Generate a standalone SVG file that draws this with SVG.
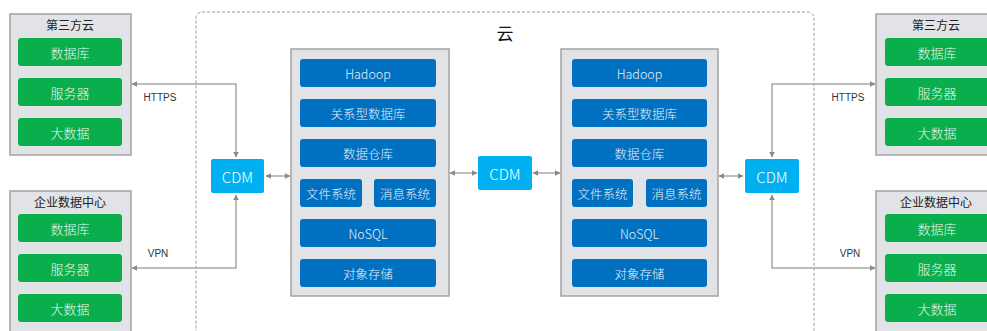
<svg xmlns="http://www.w3.org/2000/svg" width="987" height="331" viewBox="0 0 987 331">
  <defs>
    <style>
      text { font-family: "Noto Sans CJK SC", "Noto Sans", sans-serif; text-anchor: middle; dominant-baseline: central; font-weight: 300; }
      .site { fill: #e1e3e6; stroke: #a3a3a3; stroke-width: 1.5; }
      .title { fill: #222; font-size: 12px; font-weight: 400; }
      .green { fill: #0aae4c; }
      .gtxt { fill: #e8f7ec; font-size: 13px; }
      .panel { fill: #e1e3e6; stroke: #a3a3a3; stroke-width: 1.5; }
      .blue { fill: #0070c0; }
      .btxt { fill: #e6f0fa; font-size: 12.5px; }
      .cdm { fill: #00b0f0; }
      .ctxt { fill: #ffffff; font-size: 15px; }
      .link { fill: none; stroke: #a8a8a8; stroke-width: 1.5; }
      .lbl { fill: #333; font-size: 10px; font-weight: 400; font-family: "Liberation Sans", Arial, sans-serif; }
    </style>
    <marker id="arrow" viewBox="0 0 10 10" refX="9" refY="5" markerWidth="6" markerHeight="6" markerUnits="userSpaceOnUse" orient="auto-start-reverse">
      <path d="M0,0 L10,5 L0,10 z" fill="#8a8a8a"/>
    </marker>
  </defs>

  <!-- cloud boundary -->
  <g id="cloud">
    <rect x="196" y="12" width="618" height="340" rx="6" fill="none" stroke="#9a9a9a" stroke-width="1" stroke-dasharray="3,2"/>
    <text x="505" y="32" style="font-size:17px;fill:#111;font-weight:400">云</text>
  </g>

  <!-- left third-party cloud -->
  <g id="left-third-party">
    <rect class="site" x="10" y="14" width="121" height="141"/>
    <text class="title" x="70" y="24">第三方云</text>
    <rect class="green" x="18" y="38" width="104" height="28" rx="3"/>
    <text class="gtxt" x="70" y="52">数据库</text>
    <rect class="green" x="18" y="78" width="104" height="28" rx="3"/>
    <text class="gtxt" x="70" y="92">服务器</text>
    <rect class="green" x="18" y="118" width="104" height="28" rx="3"/>
    <text class="gtxt" x="70" y="132">大数据</text>
  </g>

  <!-- left enterprise data center -->
  <g id="left-datacenter">
    <rect class="site" x="10" y="191" width="121" height="150"/>
    <text class="title" x="70" y="201">企业数据中心</text>
    <rect class="green" x="18" y="214" width="104" height="28" rx="3"/>
    <text class="gtxt" x="70" y="228">数据库</text>
    <rect class="green" x="18" y="254" width="104" height="28" rx="3"/>
    <text class="gtxt" x="70" y="268">服务器</text>
    <rect class="green" x="18" y="294" width="104" height="28" rx="3"/>
    <text class="gtxt" x="70" y="308">大数据</text>
  </g>

  <!-- right third-party cloud -->
  <g id="right-third-party">
    <rect class="site" x="876" y="14" width="121" height="141"/>
    <text class="title" x="936" y="24">第三方云</text>
    <rect class="green" x="885" y="38" width="104" height="28" rx="3"/>
    <text class="gtxt" x="937" y="52">数据库</text>
    <rect class="green" x="885" y="78" width="104" height="28" rx="3"/>
    <text class="gtxt" x="937" y="92">服务器</text>
    <rect class="green" x="885" y="118" width="104" height="28" rx="3"/>
    <text class="gtxt" x="937" y="132">大数据</text>
  </g>

  <!-- right enterprise data center -->
  <g id="right-datacenter">
    <rect class="site" x="876" y="191" width="121" height="150"/>
    <text class="title" x="936" y="201">企业数据中心</text>
    <rect class="green" x="885" y="214" width="104" height="28" rx="3"/>
    <text class="gtxt" x="937" y="228">数据库</text>
    <rect class="green" x="885" y="254" width="104" height="28" rx="3"/>
    <text class="gtxt" x="937" y="268">服务器</text>
    <rect class="green" x="885" y="294" width="104" height="28" rx="3"/>
    <text class="gtxt" x="937" y="308">大数据</text>
  </g>

  <!-- left storage panel -->
  <g id="left-panel">
    <rect class="panel" x="291" y="49" width="158" height="247"/>
    <rect class="blue" x="300" y="59" width="136" height="28" rx="3"/>
    <text class="btxt" x="368" y="73">Hadoop</text>
    <rect class="blue" x="300" y="99" width="136" height="28" rx="3"/>
    <text class="btxt" x="368" y="113">关系型数据库</text>
    <rect class="blue" x="300" y="139" width="136" height="28" rx="3"/>
    <text class="btxt" x="368" y="153">数据仓库</text>
    <rect class="blue" x="300" y="179" width="62" height="28" rx="3"/>
    <text class="btxt" x="331" y="193">文件系统</text>
    <rect class="blue" x="374" y="179" width="62" height="28" rx="3"/>
    <text class="btxt" x="405" y="193">消息系统</text>
    <rect class="blue" x="300" y="219" width="136" height="28" rx="3"/>
    <text class="btxt" x="368" y="233">NoSQL</text>
    <rect class="blue" x="300" y="259" width="136" height="28" rx="3"/>
    <text class="btxt" x="368" y="273">对象存储</text>
  </g>

  <!-- right storage panel -->
  <g id="right-panel">
    <rect class="panel" x="561" y="49" width="157" height="247"/>
    <rect class="blue" x="572" y="59" width="135" height="28" rx="3"/>
    <text class="btxt" x="639.500" y="73">Hadoop</text>
    <rect class="blue" x="572" y="99" width="135" height="28" rx="3"/>
    <text class="btxt" x="639.500" y="113">关系型数据库</text>
    <rect class="blue" x="572" y="139" width="135" height="28" rx="3"/>
    <text class="btxt" x="639.500" y="153">数据仓库</text>
    <rect class="blue" x="572" y="179" width="61" height="28" rx="3"/>
    <text class="btxt" x="602.500" y="193">文件系统</text>
    <rect class="blue" x="646" y="179" width="61" height="28" rx="3"/>
    <text class="btxt" x="676.500" y="193">消息系统</text>
    <rect class="blue" x="572" y="219" width="135" height="28" rx="3"/>
    <text class="btxt" x="639.500" y="233">NoSQL</text>
    <rect class="blue" x="572" y="259" width="135" height="28" rx="3"/>
    <text class="btxt" x="639.500" y="273">对象存储</text>
  </g>

  <!-- CDM nodes -->
  <g id="cdm-left">
    <rect class="cdm" x="211" y="159" width="53" height="34" rx="2"/>
    <text class="ctxt" x="237.500" y="176">CDM</text>
  </g>
  <g id="cdm-middle">
    <rect class="cdm" x="478" y="156" width="54" height="34" rx="2"/>
    <text class="ctxt" x="505" y="173">CDM</text>
  </g>
  <g id="cdm-right">
    <rect class="cdm" x="745" y="159" width="54" height="34" rx="2"/>
    <text class="ctxt" x="772" y="176">CDM</text>
  </g>

  <!-- connectors -->
  <g id="connectors">
    <polyline class="link" points="132,84 236,84 236,157" marker-start="url(#arrow)" marker-end="url(#arrow)"/>
    <text class="lbl" x="160" y="97">HTTPS</text>
    <polyline class="link" points="236,195 236,268 132,268" marker-start="url(#arrow)" marker-end="url(#arrow)"/>
    <text class="lbl" x="158" y="253">VPN</text>
    <line class="link" x1="266" y1="176" x2="290" y2="176" marker-start="url(#arrow)" marker-end="url(#arrow)"/>
    <line class="link" x1="450" y1="173" x2="477" y2="173" marker-start="url(#arrow)" marker-end="url(#arrow)"/>
    <line class="link" x1="533" y1="173" x2="560" y2="173" marker-start="url(#arrow)" marker-end="url(#arrow)"/>
    <line class="link" x1="719" y1="176" x2="743" y2="176" marker-start="url(#arrow)" marker-end="url(#arrow)"/>
    <polyline class="link" points="772,157 772,84 875,84" marker-start="url(#arrow)" marker-end="url(#arrow)"/>
    <text class="lbl" x="848" y="97">HTTPS</text>
    <polyline class="link" points="772,195 772,268 875,268" marker-start="url(#arrow)" marker-end="url(#arrow)"/>
    <text class="lbl" x="850" y="253">VPN</text>
  </g>
</svg>
